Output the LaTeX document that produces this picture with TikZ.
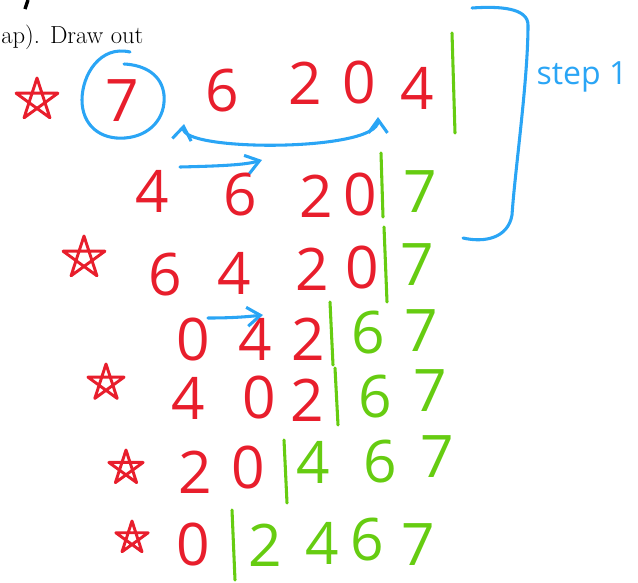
\documentclass[tikz,border=0pt]{standalone}
\usepackage{fontspec}
\usepackage{xcolor}
\usepackage{tikz}
\usetikzlibrary{arrows.meta}
\newfontfamily\hand{Open Sans}
\definecolor{inkred}{HTML}{E81E2C}
\definecolor{inkblue}{HTML}{2AA5F5}
\definecolor{inkgreen}{HTML}{66CC11}
\tikzset{
  dig/.style={text=inkred,inner sep=0pt,font=\hand\fontsize{44}{44}\selectfont},
  done/.style={dig,text=inkgreen},
  bar/.style={draw=inkgreen,line width=2.3pt,line cap=round},
  ink/.style={draw=inkblue,line width=2.3pt,line cap=round,line join=round},
  sw/.style={ink,-{Straight Barb[length=3.5mm,width=5mm]}},
  pstar/.pic={\draw[inkred,line width=2.2pt,line join=round] (-90:#1)--(54:#1)--(198:#1)--(342:#1)--(126:#1)--cycle;},
}

\begin{document}
\begin{tikzpicture}[x=0.75pt,y=-0.75pt]
  \useasboundingbox (0,0) rectangle (638,582);
  \node[anchor=base west,inner sep=0pt,font=\fontsize{18.5}{18.5}\selectfont] (intro) at (1,43) {ap). Draw out};
  \draw[line width=2.6pt] (28,0) -- (25,9);
  \pic at (37,100) {pstar=22}; \pic at (84,258) {pstar=22}; \pic at (106,383) {pstar=19};
  \pic at (126,468) {pstar=18}; \pic at (132,538) {pstar=17};
  \node[dig] (r1a) at (122,101) {7}; \node[dig] (r1b) at (222,91) {6}; \node[dig] (r1c) at (305,83) {2};
  \node[dig] (r1d) at (359,83) {0}; \node[dig] (r1e) at (417,88) {4};
  \draw[bar] (452,33) -- (455,133);
  \node[dig] (r2a) at (152,191) {4}; \node[dig] (r2b) at (240,195) {6}; \node[dig] (r2c) at (316,196) {2};
  \node[dig] (r2d) at (360,195) {0}; \node[done] (r2e) at (420,192) {7};
  \draw[bar] (381,153) -- (383,217);
  \node[dig] (r3a) at (165,275) {6}; \node[dig] (r3b) at (234,273) {4}; \node[dig] (r3c) at (312,269) {2};
  \node[dig] (r3d) at (362,268) {0}; \node[done] (r3e) at (417,265) {7};
  \draw[bar] (384,227) -- (387,302);
  \node[dig] (r4a) at (193,340) {0}; \node[dig] (r4b) at (255,339) {4}; \node[dig] (r4c) at (308,339) {2};
  \node[done] (r4d) at (368,333) {6}; \node[done] (r4e) at (421,331) {7};
  \draw[bar] (330,302) -- (333,365);
  \node[dig] (r5a) at (188,398) {4}; \node[dig] (r5b) at (259,398) {0}; \node[dig] (r5c) at (307,400) {2};
  \node[done] (r5d) at (375,397) {6}; \node[done] (r5e) at (430,391) {7};
  \draw[bar] (335,368) -- (338,425);
  \node[dig] (r6a) at (195,472) {2}; \node[dig] (r6b) at (248,468) {0};
  \node[done] (r6c) at (313,462) {4}; \node[done] (r6d) at (380,462) {6}; \node[done] (r6e) at (437,457) {7};
  \draw[bar] (284,440) -- (287,503);
  \node[dig] (r7a) at (193,545) {0}; \node[done] (r7b) at (265,545) {2}; \node[done] (r7c) at (322,543) {4};
  \node[done] (r7d) at (367,540) {6}; \node[done] (r7e) at (418,545) {7};
  \draw[bar] (232,510) -- (235,580);
  \draw[ink] (130,52) .. controls (100,45) and (82,75) .. (82,100) .. controls (82,125) and (100,140) .. (125,138)
    .. controls (150,136) and (166,118) .. (164,95) .. controls (162,75) and (145,65) .. (124,64);
  \coordinate (swapL) at (184,124); \coordinate (swapR) at (378,117);
  \draw[ink,{Straight Barb[length=3.5mm,width=5mm]}-{Straight Barb[length=3.5mm,width=5mm]}]
    (swapL) .. controls (180,152) and (378,152) .. (swapR);
  \coordinate (mvA) at (180,167); \coordinate (mvB) at (262,160);
  \draw[sw] (mvA) .. controls (220,166) and (245,165) .. (mvB);
  \coordinate (mvC) at (208,318); \coordinate (mvD) at (263,315);
  \draw[sw] (mvC) .. controls (230,318) and (245,317) .. (mvD);
  \draw[ink] (472,8) .. controls (500,6) and (528,8) .. (528,25) .. controls (528,80) and (515,170) .. (512,215)
    .. controls (508,238) and (485,243) .. (463,238);
  \node[text=inkblue,inner sep=0pt,font=\hand\fontsize{24}{24}\selectfont] (steplbl) at (582,77) {step 1};
\end{tikzpicture}
\end{document}
